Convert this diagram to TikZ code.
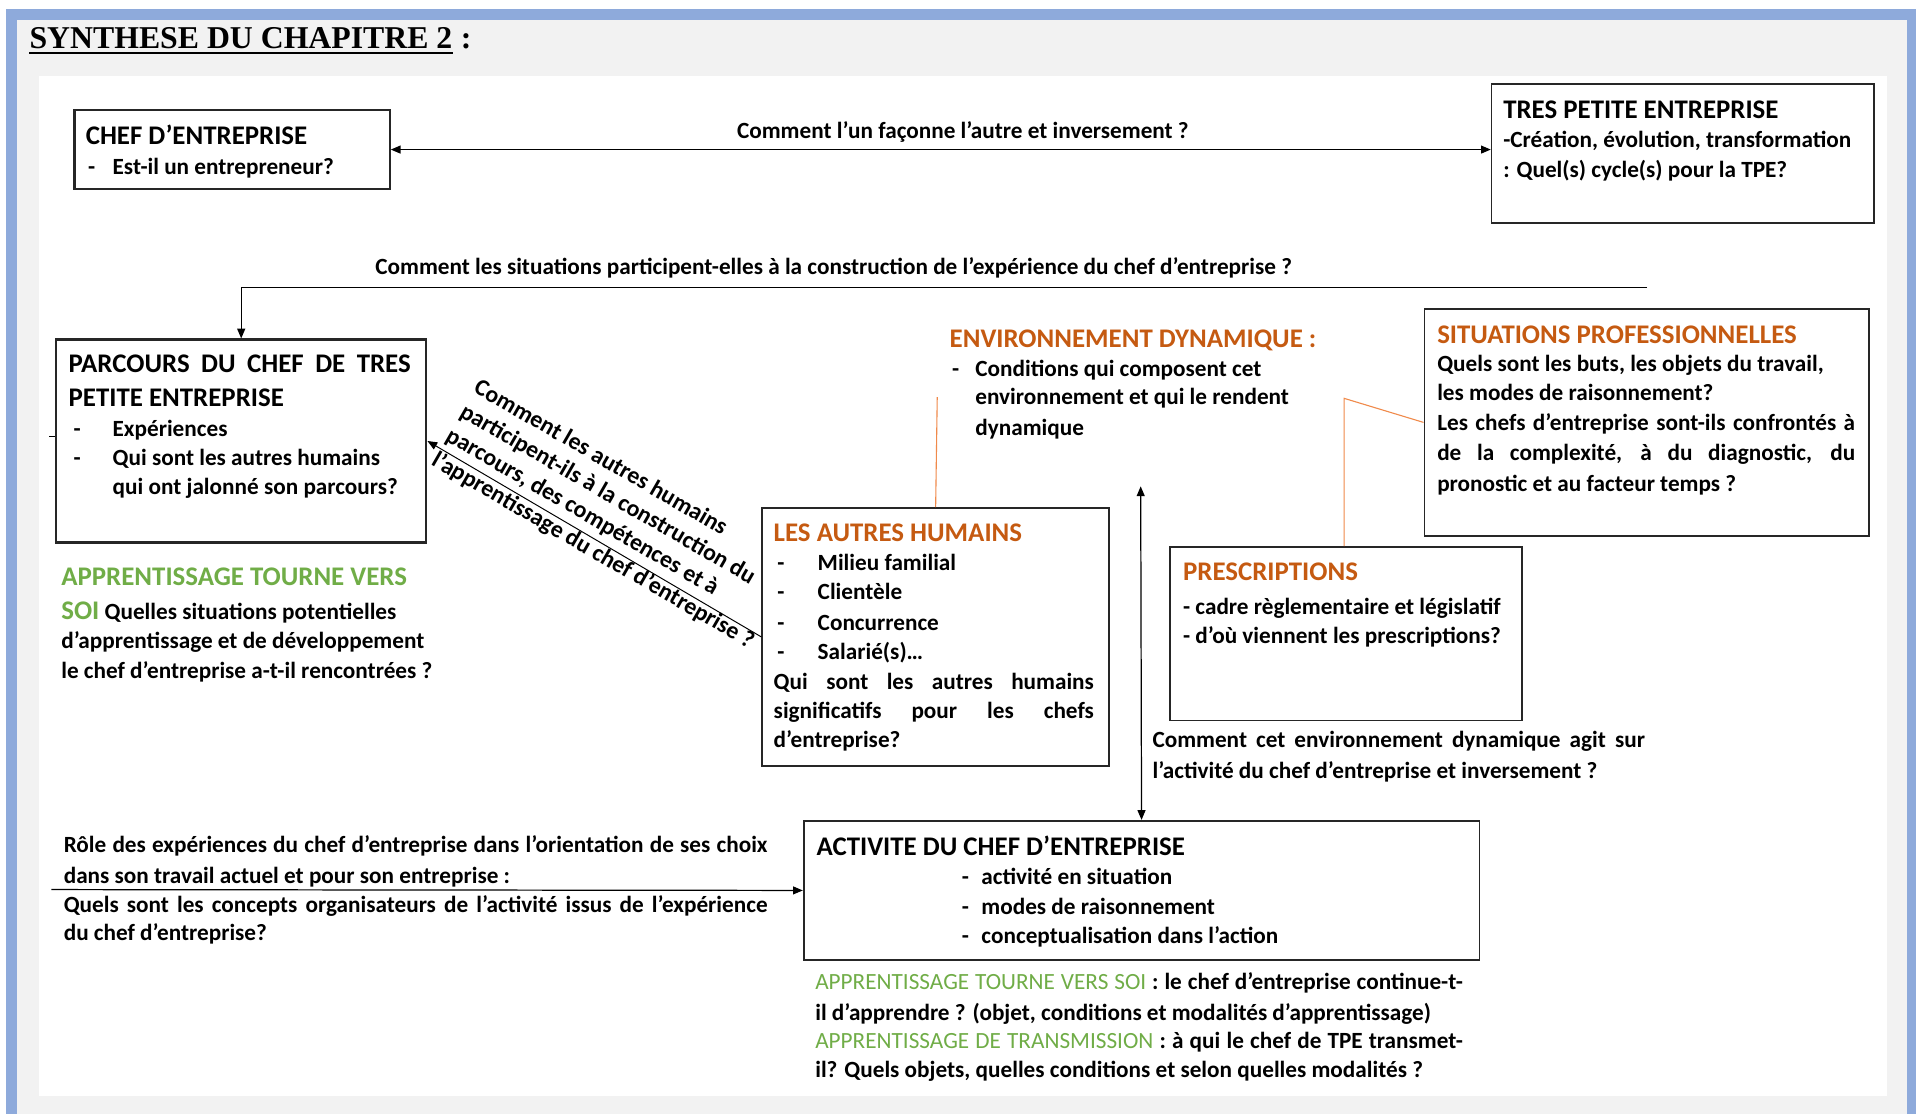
\documentclass[tikz,border=0pt]{standalone}
\usepackage{fontspec}
\setmainfont{Carlito}
\newfontfamily\titlefont{Liberation Serif}
\usetikzlibrary{arrows.meta}
\definecolor{orng}{HTML}{C55A11}
\definecolor{grn}{HTML}{70AD47}
\definecolor{frameblue}{HTML}{8EAADB}
\definecolor{bggrey}{HTML}{F2F2F2}
\definecolor{lineorange}{HTML}{F08A4B}
\begin{document}
\begin{tikzpicture}[x=1pt,y=-1pt,
  box/.style={draw=black!85, line width=1.4pt, inner sep=0pt, anchor=north west, fill=white},
  tx/.style={anchor=base west, inner sep=0pt, font=\bfseries\fontsize{19}{23}\selectfont},
  hdb/.style={anchor=base west, inner sep=0pt, font=\bfseries\fontsize{22}{26}\selectfont},
  hdo/.style={hdb, text=orng},
  hdg/.style={hdb, text=grn},
  tipA/.tip={Triangle[length=8pt,width=6.5pt]},
  arr/.style={line width=1pt, -tipA},
  darr/.style={line width=1pt, tipA-tipA},
  oline/.style={draw=lineorange, line width=0.9pt},
]
\useasboundingbox (0,0) rectangle (1568,912);
% background frames
\fill[white] (0,0) rectangle (1568,912);
\fill[frameblue] (5,7) rectangle (1568,912);
\fill[bggrey] (14,16) rectangle (1561,912);
\fill[white] (32,62) rectangle (1544,897);

% title
\node[anchor=base west, inner sep=0pt, font=\titlefont\bfseries\fontsize{26}{30}\selectfont] (ttl) at (24,40) {SYNTHESE DU CHAPITRE 2};
\node[anchor=base west, inner sep=0pt, font=\titlefont\bfseries\fontsize{26}{30}\selectfont] (ttlc) at (ttl.base east) {\ :};
\draw[line width=1.5pt] ([yshift=-3.5pt]ttl.base west) -- ([yshift=-3.5pt]ttl.base east);

% boxes
\node[box, minimum width=258pt, minimum height=65pt, line width=1.8pt] (chef) at (60,89) {};
\node[box, minimum width=313pt, minimum height=114pt] (tpe) at (1220,68) {};
\node[box, minimum width=303pt, minimum height=166pt, line width=1.8pt] (parcours) at (45,277) {};
\node[box, minimum width=284pt, minimum height=211pt] (autres) at (623,415) {};
\node[box, minimum width=364pt, minimum height=186pt] (sit) at (1165,252) {};
\node[box, minimum width=288pt, minimum height=142pt] (presc) at (957,447) {};
\node[box, minimum width=553pt, minimum height=114pt] (activite) at (657,671) {};

% CHEF D'ENTREPRISE
\node[hdb] (ch0) at (70,118) {CHEF D’ENTREPRISE};
\node[tx] (ch1d) at (72,143) {-};
\node[tx] (ch1) at (92,143) {Est-il un entrepreneur?};

% TPE
\node[hdb] (tp0) at (1230,97) {TRES PETITE ENTREPRISE};
\node[tx] (tp1) at (1230,121) {-Création, évolution, transformation};
\node[tx] (tp2) at (1230,145) {: Quel(s) cycle(s) pour la TPE?};

% arrow chef <-> tpe
\draw[darr] (chef.east) -- (chef.east -| tpe.west);
\node[tx, anchor=base] (l1) at (788,113) {Comment l’un façonne l’autre et inversement ?};

% arrow situations -> parcours
\node[tx] (l2) at (307,225) {Comment les situations participent-elles à la construction de l’expérience du chef d’entreprise ?};
\coordinate (sitlinestart) at (1348,235);
\draw[arr] (sitlinestart) -- (sitlinestart -| parcours.north) -- (parcours.north);

% PARCOURS
\node[hdb] (p1) at (56,305) {\makebox[280pt][s]{PARCOURS DU CHEF DE TRES}};
\node[hdb] (p2) at (56,333) {PETITE ENTREPRISE};
\node[tx] (p3d) at (60,357) {-};
\node[tx] (p3) at (92,357) {Expériences};
\node[tx] (p4d) at (60,381) {-};
\node[tx] (p4) at (92,381) {Qui sont les autres humains};
\node[tx] (p5) at (92,405) {qui ont jalonné son parcours?};
\coordinate (tick) at (45,357);
\draw[line width=0.8pt] (tick) -- ++(-5,0);

% green text left
\node[hdg] (g1) at (50,479) {APPRENTISSAGE TOURNE VERS};
\node[tx] (g2) at (50,507) {{\color{grn}\fontsize{22}{26}\selectfont SOI} Quelles situations potentielles};
\node[tx] (g3) at (50,531) {d’apprentissage et de développement};
\node[tx] (g4) at (50,555) {le chef d’entreprise a-t-il rencontrées ?};

% diagonal arrow autres -> parcours
\draw[line width=0.8pt, -tipA] (autres.west) -- (parcours.east);
\node[anchor=north west, inner sep=0pt, rotate=-30, align=left,
      font=\bfseries\fontsize{19.5}{23}\selectfont] (rot) at (393.5,308.5)
  {Comment les autres humains\\participent-ils à la construction du\\parcours, des compétences et à\\l’apprentissage du chef d’entreprise ?};

% LES AUTRES HUMAINS
\node[hdo] (a0) at (633,443) {LES AUTRES HUMAINS};
\node[tx] (a1d) at (636,467) {-};
\node[tx] (a1) at (669,467) {Milieu familial};
\node[tx] (a2d) at (636,491) {-};
\node[tx] (a2) at (669,491) {Clientèle};
\node[tx] (a3d) at (636,516) {-};
\node[tx] (a3) at (669,516) {Concurrence};
\node[tx] (a4d) at (636,540) {-};
\node[tx] (a4) at (669,540) {Salarié(s)…};
\node[tx] (a5) at (633,564) {\makebox[262pt][s]{Qui sont les autres humains}};
\node[tx] (a6) at (633,588) {\makebox[262pt][s]{significatifs pour les chefs}};
\node[tx] (a7) at (633,612) {d’entreprise?};

% orange connector autres -> environnement
\coordinate (envlow) at (767,325);
\draw[oline] (autres.north) -- (envlow);

% ENVIRONNEMENT DYNAMIQUE
\node[hdo] (e0) at (777,284) {ENVIRONNEMENT DYNAMIQUE :};
\node[tx] (e1d) at (779,308) {-};
\node[tx] (e1) at (798,308) {Conditions qui composent cet};
\node[tx] (e2) at (798,331) {environnement et qui le rendent};
\node[tx] (e3) at (798,356) {dynamique};

% SITUATIONS PROFESSIONNELLES
\node[hdo] (s0) at (1176,281) {SITUATIONS PROFESSIONNELLES};
\node[tx] (s1) at (1176,304) {Quels sont les buts, les objets du travail,};
\node[tx] (s2) at (1176,328) {les modes de raisonnement?};
\node[tx] (s3) at (1176,352) {\makebox[342pt][s]{Les chefs d’entreprise sont-ils confrontés à}};
\node[tx] (s4) at (1176,377) {\makebox[342pt][s]{de la complexité, à du diagnostic, du}};
\node[tx] (s5) at (1176,402) {pronostic et au facteur temps ?};

% orange connector situations -> prescriptions
\coordinate (ocorner) at (1100,326);
\draw[oline] (sit.west) -- (ocorner) -- (ocorner |- presc.north);

% PRESCRIPTIONS
\node[hdo] (pr0) at (968,475) {PRESCRIPTIONS};
\node[tx] (pr1) at (968,503) {- cadre règlementaire et législatif};
\node[tx] (pr2) at (968,527) {- d’où viennent les prescriptions?};

% vertical arrow environnement <-> activite
\coordinate (vtop) at (933.5,398);
\draw[darr] (activite.north) -- (vtop);
\node[tx] (c1) at (943,612) {\makebox[403pt][s]{Comment cet environnement dynamique agit sur}};
\node[tx] (c2) at (943,637) {l’activité du chef d’entreprise et inversement ?};

% ACTIVITE
\node[hdb] (ac0) at (668,700) {ACTIVITE DU CHEF D’ENTREPRISE};
\node[tx] (ac1d) at (787,724) {-};
\node[tx] (ac1) at (803,724) {activité en situation};
\node[tx] (ac2d) at (787,748) {-};
\node[tx] (ac2) at (803,748) {modes de raisonnement};
\node[tx] (ac3d) at (787,772) {-};
\node[tx] (ac3) at (803,772) {conceptualisation dans l’action};

% left text + arrow to activite
\node[tx] (lt1) at (52,698) {\makebox[576pt][s]{Rôle des expériences du chef d’entreprise dans l’orientation de ses choix}};
\node[tx] (lt2) at (52,723) {dans son travail actuel et pour son entreprise :};
\coordinate (lstart) at (42,728);
\draw[arr] (lstart) -- (activite.west);
\node[tx] (lt3) at (52,747) {\makebox[576pt][s]{Quels sont les concepts organisateurs de l’activité issus de l’expérience}};
\node[tx] (lt4) at (52,770) {du chef d’entreprise?};

% bottom text
\node[tx] (b1) at (667,810) {\makebox[530pt][s]{{\mdseries\color{grn}APPRENTISSAGE TOURNE VERS SOI} : le chef d’entreprise continue-t-}};
\node[tx] (b2) at (667,835) {il d’apprendre ? (objet, conditions et modalités d’apprentissage)};
\node[tx] (b3) at (667,858) {\makebox[530pt][s]{{\mdseries\color{grn}APPRENTISSAGE DE TRANSMISSION} : à qui le chef de TPE transmet-}};
\node[tx] (b4) at (667,882) {il? Quels objets, quelles conditions et selon quelles modalités ?};
\end{tikzpicture}
\end{document}
